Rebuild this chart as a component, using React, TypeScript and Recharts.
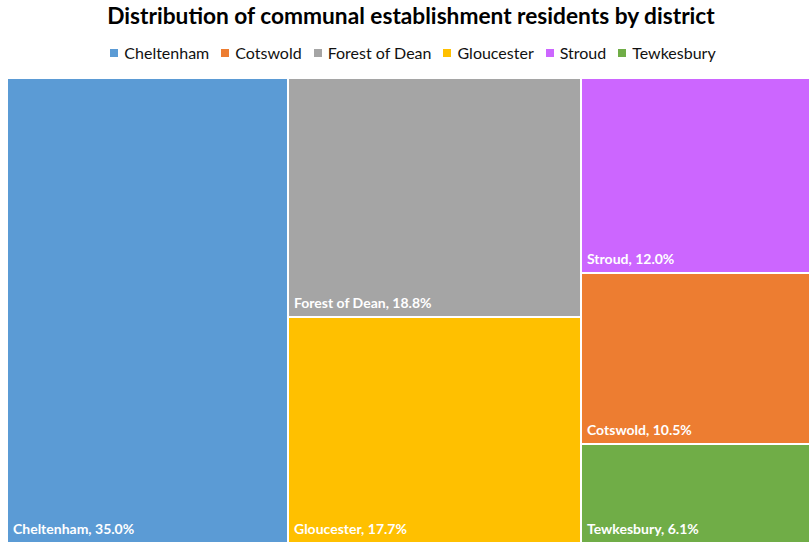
import React from 'react';
import { Treemap } from 'recharts';

const districts = ['Cheltenham', 'Forest of Dean', 'Gloucester', 'Stroud', 'Cotswold', 'Tewkesbury'];
const shares = [35.0, 18.8, 17.7, 12.0, 10.5, 6.1];
const legendOrder = ['Cheltenham', 'Cotswold', 'Forest of Dean', 'Gloucester', 'Stroud', 'Tewkesbury'];
const colors: Record<string, string> = {
  Cheltenham: '#5B9BD5',
  Cotswold: '#ED7D31',
  'Forest of Dean': '#A5A5A5',
  Gloucester: '#FFC000',
  Stroud: '#CC66FF',
  Tewkesbury: '#70AD47',
};

const data = districts.map((name, i) => ({ name, value: shares[i] }));

const FONT = 'Lato, "Open Sans", sans-serif';

const Cell = (props: any) => {
  const { x, y, width, height, name, value, depth } = props;
  if (depth === 0 || !name) return null;
  return (
    <g>
      <rect x={x} y={y} width={width} height={height} fill={colors[name]} stroke="#fff" strokeWidth={2} />
      <text
        x={x + 6}
        y={y + height - 9}
        fill="#fff"
        fontFamily={FONT}
        fontWeight={700}
        fontSize={14}
      >
        {`${name}, ${Number(value).toFixed(1)}%`}
      </text>
    </g>
  );
};

export default function App() {
  return (
    <div style={{ position: 'absolute', left: 0, top: 0, width: 810, height: 543, background: '#fff', overflow: 'hidden', fontFamily: FONT }}>
      <div style={{ position: 'absolute', left: 0, top: 2, width: 822, textAlign: 'center', fontSize: 22.7, fontWeight: 700, color: '#000' }}>
        Distribution of communal establishment residents by district
      </div>
      <div style={{ position: 'absolute', left: 0, top: 43, width: 826, display: 'flex', justifyContent: 'center', fontSize: 16, color: '#111' }}>
        {legendOrder.map((n) => (
          <div key={n} style={{ display: 'flex', alignItems: 'center', margin: '0 6px' }}>
            <span style={{ display: 'inline-block', width: 8, height: 8, background: colors[n], marginRight: 6 }} />
            <span>{n}</span>
          </div>
        ))}
      </div>
      <div style={{ position: 'absolute', left: 7, top: 78 }}>
        <Treemap
          width={803}
          height={465}
          data={data}
          dataKey="value"
          nameKey="name"
          aspectRatio={1}
          isAnimationActive={false}
          content={<Cell />}
        />
      </div>
    </div>
  );
}
